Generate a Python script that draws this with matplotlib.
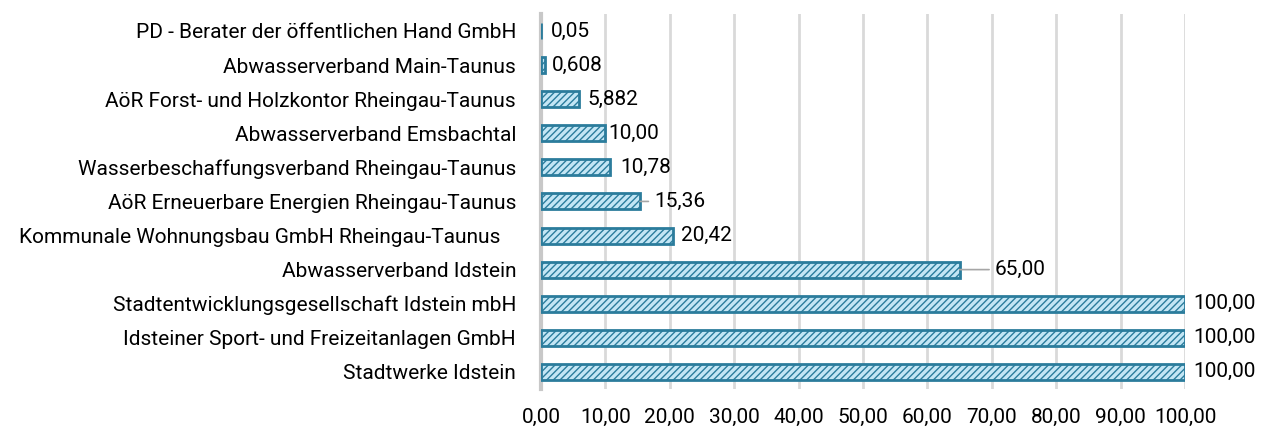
import matplotlib.pyplot as plt
import numpy as np

plt.rcParams['font.family'] = ['Roboto', 'DejaVu Sans']
plt.rcParams['hatch.linewidth'] = 1.0

# bottom to top
names = ["Stadtwerke Idstein",
         "Idsteiner Sport- und Freizeitanlagen GmbH",
         "Stadtentwicklungsgesellschaft Idstein mbH",
         "Abwasserverband Idstein",
         "Kommunale Wohnungsbau GmbH Rheingau-Taunus   ",
         "AöR Erneuerbare Energien Rheingau-Taunus",
         "Wasserbeschaffungsverband Rheingau-Taunus",
         "Abwasserverband Emsbachtal",
         "AöR Forst- und Holzkontor Rheingau-Taunus",
         "Abwasserverband Main-Taunus",
         "PD - Berater der öffentlichen Hand GmbH"]
values = [100.0, 100.0, 100.0, 65.0, 20.42, 15.36, 10.78, 10.0, 5.882, 0.608, 0.05]
labels = ["100,00", "100,00", "100,00", "65,00", "20,42", "15,36", "10,78",
          "10,00", "5,882", "0,608", "0,05"]
xticks = np.arange(0, 101, 10)
xtick_labels = ["%d,00" % t for t in xticks]

fig = plt.figure(figsize=(12.71, 4.36), dpi=100)
ax = fig.add_axes([0.4257, 0.108, 0.5067, 0.86])

y = np.arange(len(names))
ax.barh(y, values, height=0.47, color='#c3e6f5', edgecolor='#2b7c9c',
        hatch='/////', linewidth=2, zorder=3)

# label offsets in pixels (style only)
dx = [8, 8, 8, 35, 8, 14, 10, 3, 8, 7, 9]
fs = 15
for yi, v, lab, d in zip(y, values, labels, dx):
    if d > 12:
        ax.annotate(lab, xy=(v, yi), xytext=(d, 0), textcoords='offset pixels',
                    va='center', ha='left', fontsize=fs,
                    arrowprops=dict(arrowstyle='-', color='#a6a6a6', lw=1.2,
                                    shrinkA=2, shrinkB=0))
    else:
        ax.annotate(lab, xy=(v, yi), xytext=(d, 0), textcoords='offset pixels',
                    va='center', ha='left', fontsize=fs)

ax.set_xlim(0, 100)
ax.set_ylim(-0.5, len(names) - 0.5)
ax.set_xticks(xticks)
ax.set_xticklabels(xtick_labels, fontsize=fs)
ax.set_yticks(y)
ax.set_yticklabels(names, fontsize=fs)
ax.tick_params(axis='x', length=0, pad=14)
ax.tick_params(axis='y', length=0, pad=18)
ax.grid(axis='x', color='#d9d9d9', linewidth=2, zorder=0)
for s in ['top', 'right', 'bottom']:
    ax.spines[s].set_visible(False)
ax.spines['left'].set_color('#c8c8c8')
ax.spines['left'].set_linewidth(3)

fig.savefig('out.png', dpi=100)
